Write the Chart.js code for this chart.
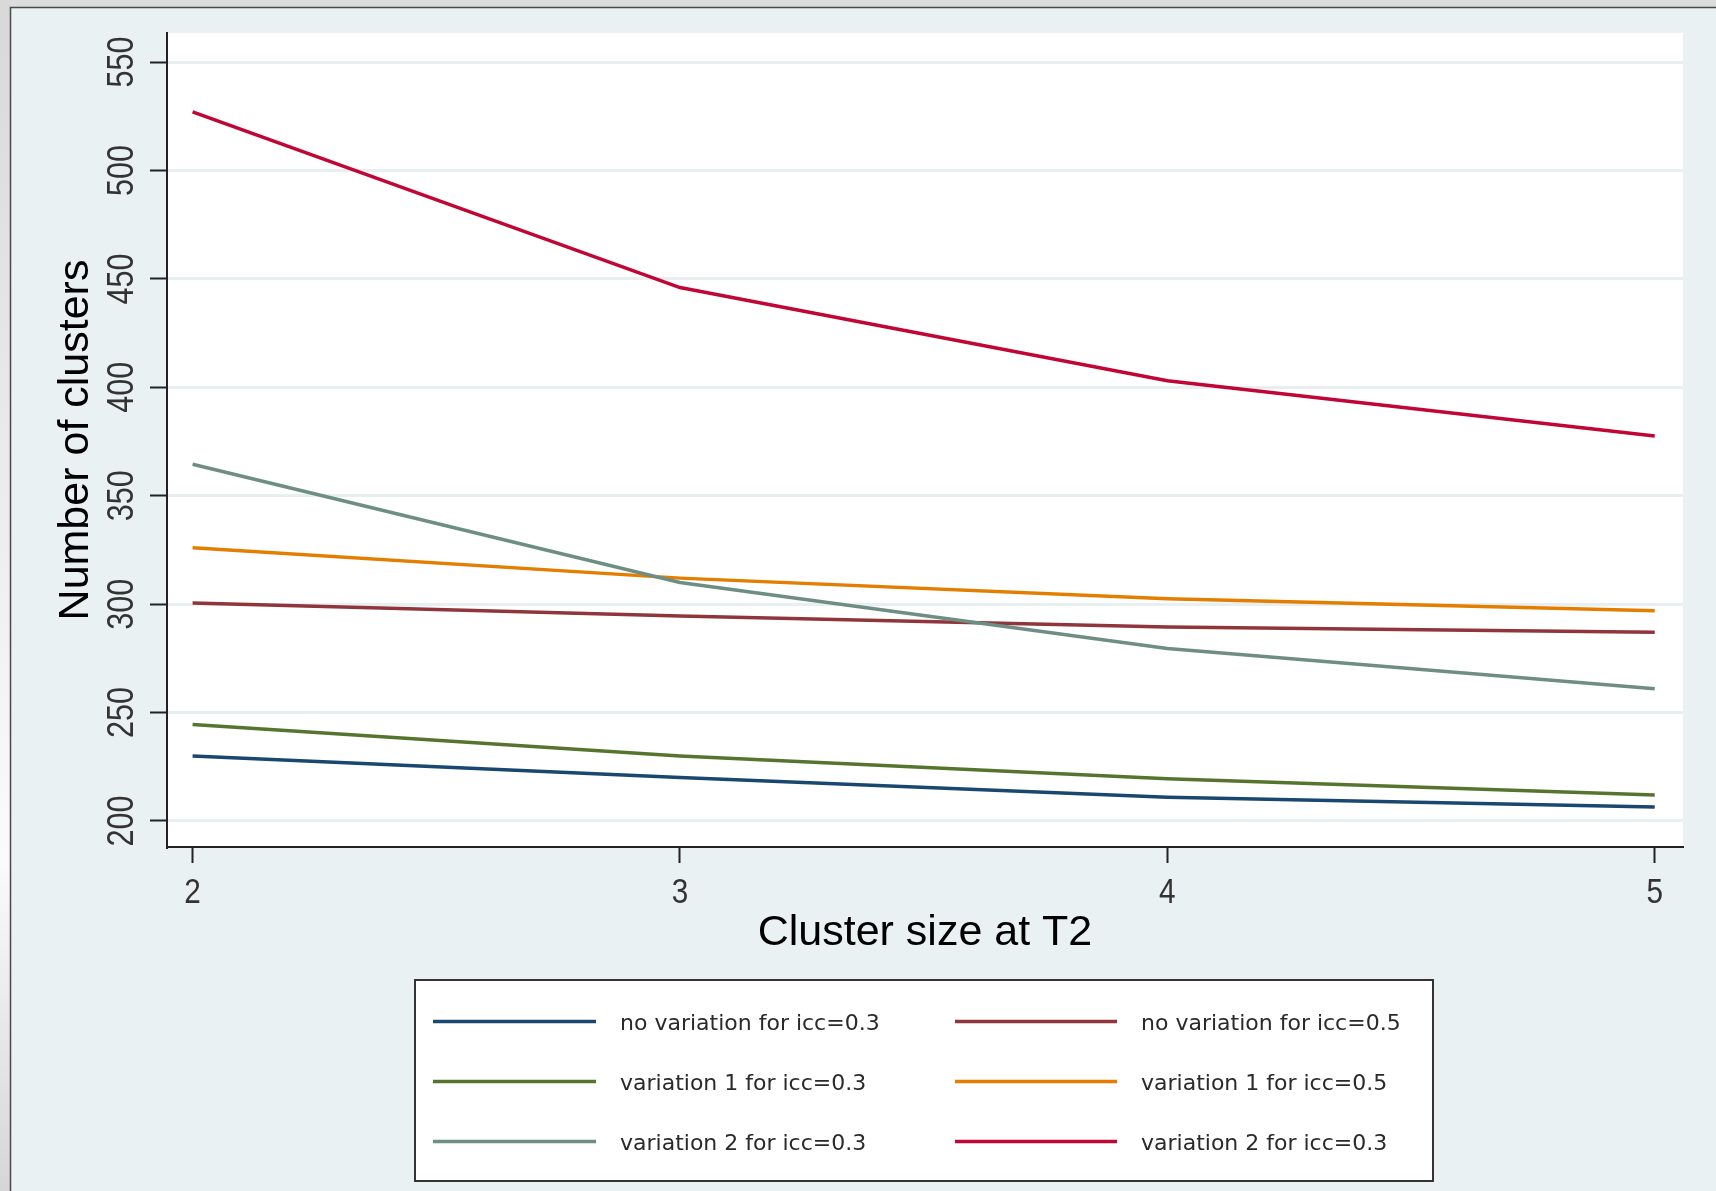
<!DOCTYPE html>
<html><head><meta charset="utf-8">
<script src="https://cdn.jsdelivr.net/npm/chart.js@4.4.1/dist/chart.umd.min.js"></script>
<style>html,body{margin:0;padding:0;background:#dcdcdc;overflow:hidden}canvas{display:block}</style>
</head><body>
<canvas id="c" width="1716" height="1191"></canvas>
<script>
// ---- data ----
const clusterSizes = [2, 3, 4, 5];
const noVar03  = [230, 220, 211, 206.5];
const noVar05  = [300.5, 294.5, 289.5, 287];
const var1_03  = [244.5, 230, 219.5, 212];
const var1_05  = [326, 312, 302.5, 297];
const var2_03  = [364.5, 310, 279.5, 261];
const var2_05  = [527, 446, 403, 377.5];
const seriesLabels = [
  'no variation for icc=0.3', 'no variation for icc=0.5',
  'variation 1 for icc=0.3', 'variation 1 for icc=0.5',
  'variation 2 for icc=0.3', 'variation 2 for icc=0.3'
];
const seriesColors = ['#1a476f', '#90353b', '#55752f', '#e37e00', '#6e8e84', '#c10534'];
const xTickValues = [2, 3, 4, 5];
const yTickValues = [200, 250, 300, 350, 400, 450, 500, 550];
const xTitle = 'Cluster size at T2';
const yTitle = 'Number of clusters';

const seriesValues = [noVar03, noVar05, var1_03, var1_05, var2_03, var2_05];
const datasets = seriesValues.map((vals, i) => ({
  label: seriesLabels[i],
  data: clusterSizes.map((x, k) => ({x: x, y: vals[k]})),
  borderColor: seriesColors[i],
  backgroundColor: seriesColors[i],
  borderWidth: 3.5,
  pointRadius: 0,
  tension: 0,
  order: seriesValues.length - i
}));

const bgPlugin = {
  id: 'bg',
  beforeDraw(chart) {
    const ctx = chart.ctx, W = chart.width, H = chart.height, a = chart.chartArea;
    ctx.save();
    ctx.fillStyle = '#dcdcdc';
    ctx.fillRect(0, 0, W, H);
    const g = ctx.createLinearGradient(0, 0, 0, H);
    g.addColorStop(0, '#d8d8d8'); g.addColorStop(0.72, '#fbfbfb'); g.addColorStop(1, '#d6d6d6');
    ctx.fillStyle = g;
    ctx.fillRect(0, 0, 10, H);
    ctx.fillStyle = '#eaf1f3';
    ctx.fillRect(10, 7, W - 10, H - 7);
    ctx.strokeStyle = '#4a4a4a'; ctx.lineWidth = 1.5;
    ctx.beginPath(); ctx.moveTo(10.5, H); ctx.lineTo(10.5, 7.5); ctx.lineTo(W, 7.5); ctx.stroke();
    ctx.fillStyle = '#ffffff';
    ctx.fillRect(a.left, a.top, a.right - a.left, a.bottom - a.top);
    ctx.restore();
  }
};

const labelPlugin = {
  id: 'labels',
  afterDraw(chart) {
    const ctx = chart.ctx, xs = chart.scales.x, ys = chart.scales.y;
    ctx.save();
    ctx.fillStyle = '#333333';
    ctx.font = '36px "Liberation Sans", Arial, sans-serif';
    ctx.textAlign = 'center';
    ctx.textBaseline = 'alphabetic';
    yTickValues.forEach(v => {
      const py = ys.getPixelForValue(v);
      ctx.save(); ctx.translate(ys.right - 34, py); ctx.rotate(-Math.PI / 2); ctx.scale(0.85, 1);
      ctx.fillText(String(v), 0, 0); ctx.restore();
    });
    ctx.font = '35px "Liberation Sans", Arial, sans-serif';
    xTickValues.forEach(v => {
      const px = xs.getPixelForValue(v);
      ctx.save(); ctx.translate(px, xs.top + 56); ctx.scale(0.85, 1);
      ctx.fillText(String(v), 0, 0); ctx.restore();
    });
    // legend
    const L = 415, T = 980, R = 1433, B = 1181;
    ctx.fillStyle = '#ffffff';
    ctx.fillRect(L, T, R - L, B - T);
    ctx.strokeStyle = '#333333'; ctx.lineWidth = 2;
    ctx.strokeRect(L, T, R - L, B - T);
    const colLine = [[433, 596], [955, 1117]];
    const colText = [620, 1141];
    ctx.font = '22px "DejaVu Sans", sans-serif';
    ctx.textAlign = 'left';
    seriesLabels.forEach((lab, i) => {
      const col = i % 2, row = Math.floor(i / 2);
      const y = T + 41.5 + row * 60;
      ctx.strokeStyle = seriesColors[i]; ctx.lineWidth = 3.5;
      ctx.beginPath(); ctx.moveTo(colLine[col][0], y); ctx.lineTo(colLine[col][1], y); ctx.stroke();
      ctx.fillStyle = '#2a2a2a';
      ctx.fillText(lab, colText[col], y + 8);
    });
    ctx.restore();
  }
};

new Chart(document.getElementById('c'), {
  type: 'line',
  data: {datasets: datasets},
  options: {
    responsive: false,
    animation: false,
    devicePixelRatio: 1,
    layout: {padding: {top: 33, right: 33, left: 0, bottom: 0}},
    plugins: {legend: {display: false}, tooltip: {enabled: false}},
    scales: {
      x: {
        type: 'linear', position: 'bottom',
        min: 1.9475, max: 5.058,
        afterBuildTicks: s => { s.ticks = xTickValues.map(v => ({value: v})); },
        afterFit: s => { s.height = 344; },
        ticks: {display: false},
        grid: {drawOnChartArea: false, drawTicks: true, tickLength: 16, tickColor: '#222222', tickWidth: 2},
        border: {display: true, color: '#222222', width: 2},
        title: {display: true, text: xTitle, color: '#000000',
                font: {family: '"Liberation Sans", Arial, sans-serif', size: 43, lineHeight: 1.2},
                padding: {top: 0, bottom: 232}}
      },
      y: {
        type: 'linear', position: 'left',
        min: 188, max: 563.4,
        afterBuildTicks: s => { s.ticks = yTickValues.map(v => ({value: v})); },
        afterFit: s => { s.width = 167; },
        ticks: {display: false},
        grid: {color: '#e8eff1', lineWidth: 3, drawTicks: true, tickLength: 17, tickColor: '#222222', tickWidth: 2},
        border: {display: true, color: '#222222', width: 2},
        title: {display: true, text: yTitle, color: '#000000',
                font: {family: '"Liberation Sans", Arial, sans-serif', size: 43, lineHeight: 1.2},
                padding: {top: 50, bottom: 0}}
      }
    }
  },
  plugins: [bgPlugin, labelPlugin]
});
</script>
</body></html>
